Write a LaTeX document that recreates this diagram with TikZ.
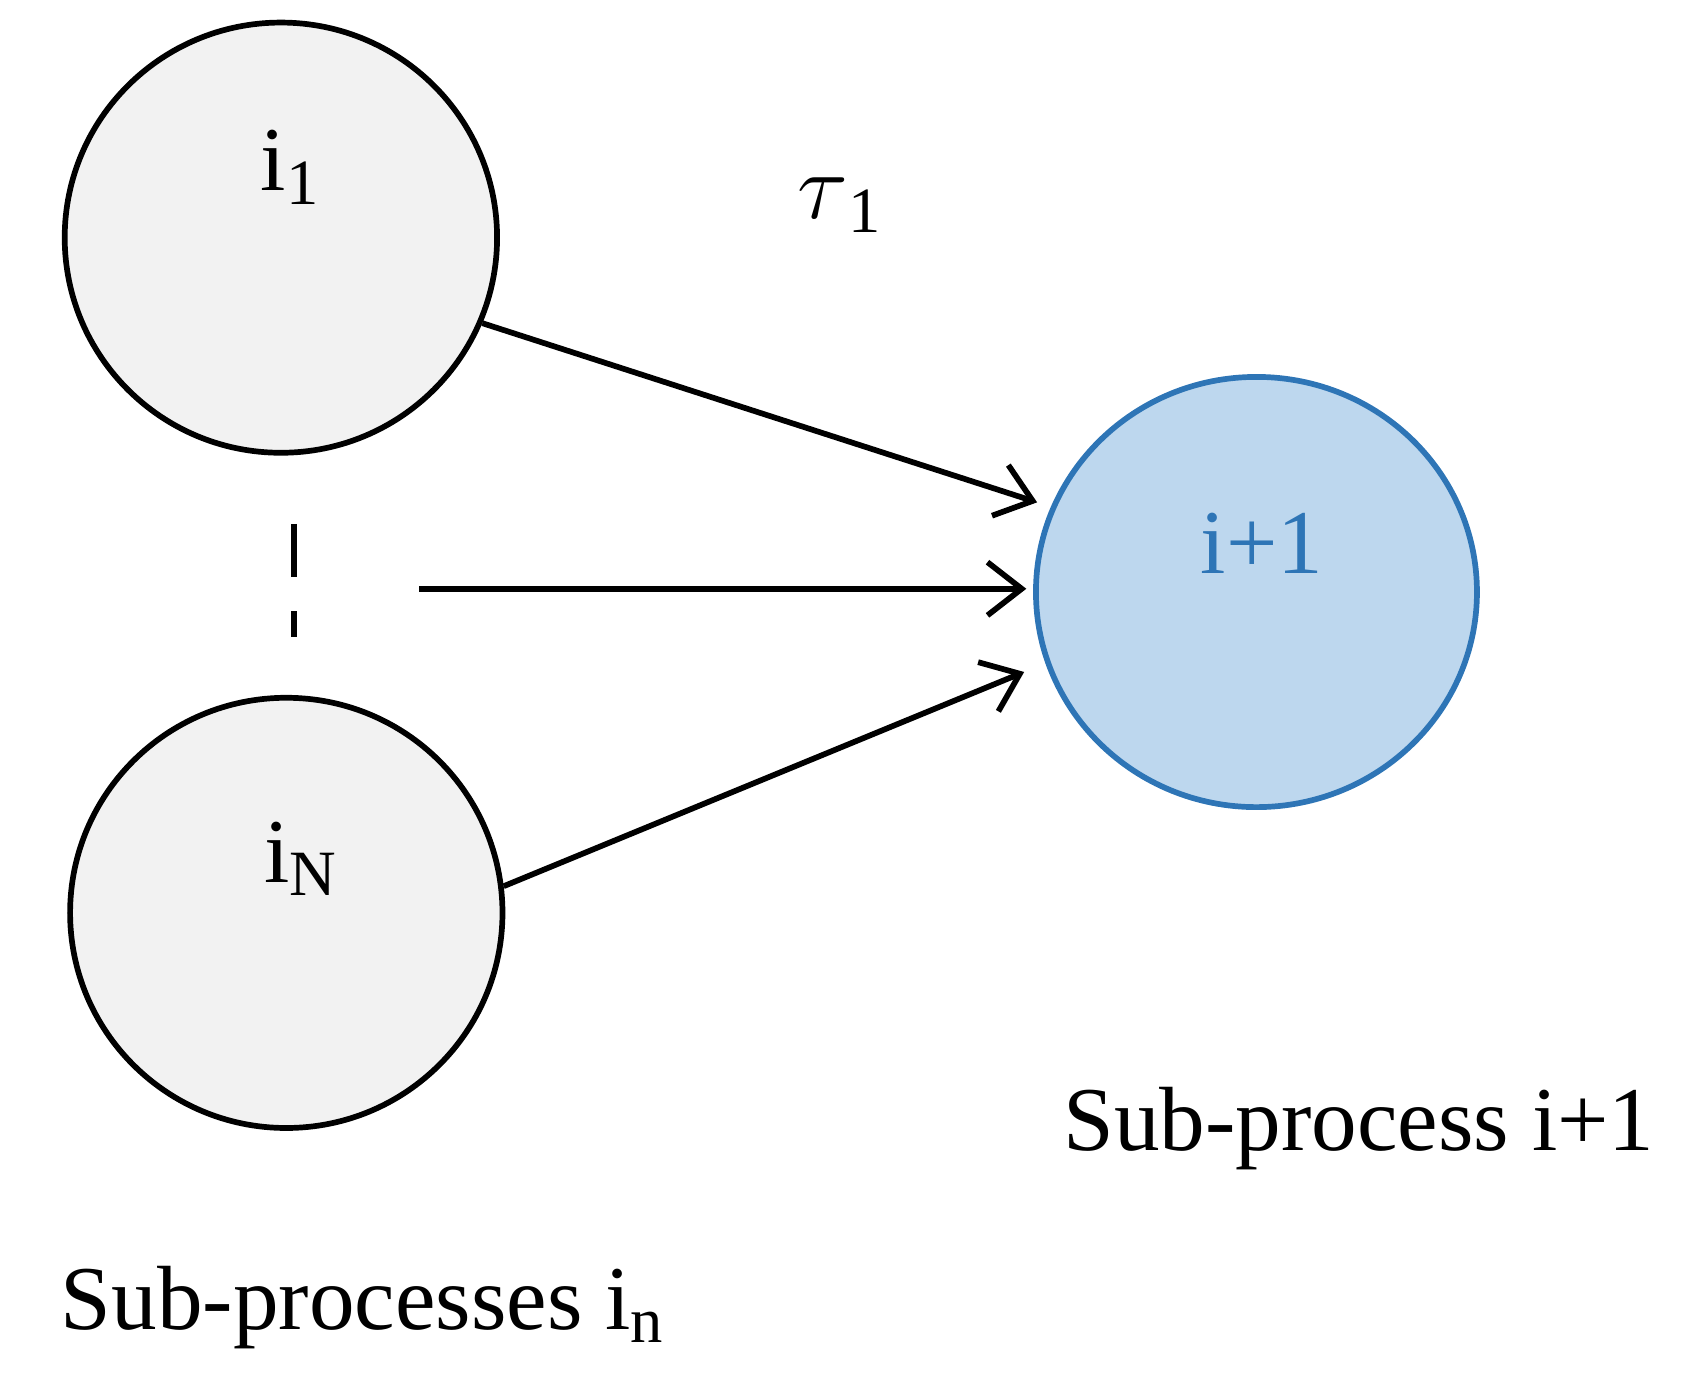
\documentclass[tikz,border=0pt]{standalone}
\usepackage{fontspec}
\setmainfont{Liberation Serif}
\usetikzlibrary{arrows.meta,shapes.geometric}
\definecolor{bfill}{HTML}{BDD7EE}
\definecolor{bline}{HTML}{2E75B6}
\definecolor{gfill}{HTML}{F2F2F2}
\begin{document}
\begin{tikzpicture}[x=0.01cm,y=-0.01cm,
  sub/.style={draw=black,line width=1.5pt,fill=gfill,ellipse,minimum width=4cm,minimum height=3.98cm,inner sep=0pt},
  arr/.style={line width=1.5pt,-{Straight Barb[length=9pt,width=14pt]}},
  lbl/.style={font=\fontsize{24pt}{28pt}\selectfont}]
\useasboundingbox (0,0) rectangle (1568,1283);
\node[sub] (a) at (260,220) {};
\node[sub] (n) at (265,845) {};
\node[draw=bline,line width=1.5pt,fill=bfill,ellipse,minimum width=4.08cm,minimum height=3.98cm,inner sep=0pt] (t) at (1163,548) {};
\node[lbl] (la) at (268,155) {i\raisebox{-0.15em}{\fontsize{17pt}{20pt}\selectfont 1}};
\node[lbl] (ln) at (278,795) {i\raisebox{-0.15em}{\fontsize{17pt}{20pt}\selectfont N}};
\node[lbl,text=bline] (lt) at (1168,503) {i+1};
\node[lbl] (tau) at (777,190) {$\tau$\raisebox{-0.15em}{\fontsize{17pt}{20pt}\selectfont 1}};
\node[lbl] (s1) at (1258,1045) {Sub-process i+1};
\node[lbl] (s2) at (335,1210) {Sub-processes i\raisebox{-0.15em}{\fontsize{17pt}{20pt}\selectfont n}};
\coordinate (d1) at (272,485);
\coordinate (d2) at (272,590);
\draw[line width=1.5pt,dash pattern=on 14pt off 9pt] (d1) -- (d2);
\coordinate (m) at (388,545);
\coordinate (me) at (950,545);
\coordinate (ae) at (960,465);
\coordinate (ne) at (948,622);
\draw[arr] (a.-23) -- (ae);
\draw[arr] (m) -- (me);
\draw[arr] (n.7) -- (ne);
\end{tikzpicture}
\end{document}
